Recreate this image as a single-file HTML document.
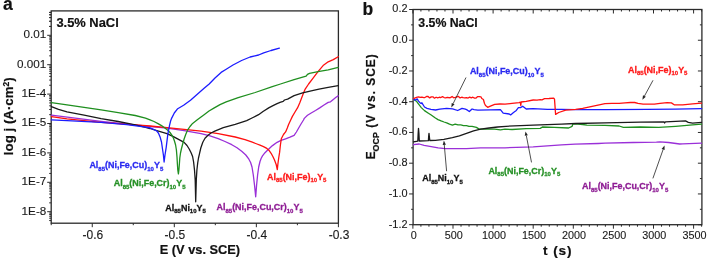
<!DOCTYPE html>
<html><head><meta charset="utf-8"><title>Polarization and OCP curves</title>
<style>
html,body{margin:0;padding:0;background:#fff;}
body{width:708px;height:258px;overflow:hidden;font-family:"Liberation Sans", sans-serif;}
svg{display:block;will-change:transform;}
</style></head>
<body>
<svg width="708" height="258" viewBox="0 0 708 258" font-family='"Liberation Sans", sans-serif'>
<rect width="708" height="258" fill="#fff"/>
<line x1="47.20" y1="211.70" x2="51.20" y2="211.70" stroke="#2a2a2a" stroke-width="1.0"/>
<line x1="49.20" y1="202.85" x2="51.20" y2="202.85" stroke="#2a2a2a" stroke-width="1.0"/>
<line x1="49.20" y1="197.67" x2="51.20" y2="197.67" stroke="#2a2a2a" stroke-width="1.0"/>
<line x1="49.20" y1="194.00" x2="51.20" y2="194.00" stroke="#2a2a2a" stroke-width="1.0"/>
<line x1="49.20" y1="191.15" x2="51.20" y2="191.15" stroke="#2a2a2a" stroke-width="1.0"/>
<line x1="49.20" y1="188.82" x2="51.20" y2="188.82" stroke="#2a2a2a" stroke-width="1.0"/>
<line x1="49.20" y1="186.85" x2="51.20" y2="186.85" stroke="#2a2a2a" stroke-width="1.0"/>
<line x1="49.20" y1="185.15" x2="51.20" y2="185.15" stroke="#2a2a2a" stroke-width="1.0"/>
<line x1="49.20" y1="183.65" x2="51.20" y2="183.65" stroke="#2a2a2a" stroke-width="1.0"/>
<line x1="47.20" y1="182.30" x2="51.20" y2="182.30" stroke="#2a2a2a" stroke-width="1.0"/>
<line x1="49.20" y1="173.45" x2="51.20" y2="173.45" stroke="#2a2a2a" stroke-width="1.0"/>
<line x1="49.20" y1="168.27" x2="51.20" y2="168.27" stroke="#2a2a2a" stroke-width="1.0"/>
<line x1="49.20" y1="164.60" x2="51.20" y2="164.60" stroke="#2a2a2a" stroke-width="1.0"/>
<line x1="49.20" y1="161.75" x2="51.20" y2="161.75" stroke="#2a2a2a" stroke-width="1.0"/>
<line x1="49.20" y1="159.42" x2="51.20" y2="159.42" stroke="#2a2a2a" stroke-width="1.0"/>
<line x1="49.20" y1="157.45" x2="51.20" y2="157.45" stroke="#2a2a2a" stroke-width="1.0"/>
<line x1="49.20" y1="155.75" x2="51.20" y2="155.75" stroke="#2a2a2a" stroke-width="1.0"/>
<line x1="49.20" y1="154.25" x2="51.20" y2="154.25" stroke="#2a2a2a" stroke-width="1.0"/>
<line x1="47.20" y1="152.90" x2="51.20" y2="152.90" stroke="#2a2a2a" stroke-width="1.0"/>
<line x1="49.20" y1="144.05" x2="51.20" y2="144.05" stroke="#2a2a2a" stroke-width="1.0"/>
<line x1="49.20" y1="138.87" x2="51.20" y2="138.87" stroke="#2a2a2a" stroke-width="1.0"/>
<line x1="49.20" y1="135.20" x2="51.20" y2="135.20" stroke="#2a2a2a" stroke-width="1.0"/>
<line x1="49.20" y1="132.35" x2="51.20" y2="132.35" stroke="#2a2a2a" stroke-width="1.0"/>
<line x1="49.20" y1="130.02" x2="51.20" y2="130.02" stroke="#2a2a2a" stroke-width="1.0"/>
<line x1="49.20" y1="128.05" x2="51.20" y2="128.05" stroke="#2a2a2a" stroke-width="1.0"/>
<line x1="49.20" y1="126.35" x2="51.20" y2="126.35" stroke="#2a2a2a" stroke-width="1.0"/>
<line x1="49.20" y1="124.85" x2="51.20" y2="124.85" stroke="#2a2a2a" stroke-width="1.0"/>
<line x1="47.20" y1="123.50" x2="51.20" y2="123.50" stroke="#2a2a2a" stroke-width="1.0"/>
<line x1="49.20" y1="114.65" x2="51.20" y2="114.65" stroke="#2a2a2a" stroke-width="1.0"/>
<line x1="49.20" y1="109.47" x2="51.20" y2="109.47" stroke="#2a2a2a" stroke-width="1.0"/>
<line x1="49.20" y1="105.80" x2="51.20" y2="105.80" stroke="#2a2a2a" stroke-width="1.0"/>
<line x1="49.20" y1="102.95" x2="51.20" y2="102.95" stroke="#2a2a2a" stroke-width="1.0"/>
<line x1="49.20" y1="100.62" x2="51.20" y2="100.62" stroke="#2a2a2a" stroke-width="1.0"/>
<line x1="49.20" y1="98.65" x2="51.20" y2="98.65" stroke="#2a2a2a" stroke-width="1.0"/>
<line x1="49.20" y1="96.95" x2="51.20" y2="96.95" stroke="#2a2a2a" stroke-width="1.0"/>
<line x1="49.20" y1="95.45" x2="51.20" y2="95.45" stroke="#2a2a2a" stroke-width="1.0"/>
<line x1="47.20" y1="94.10" x2="51.20" y2="94.10" stroke="#2a2a2a" stroke-width="1.0"/>
<line x1="49.20" y1="85.25" x2="51.20" y2="85.25" stroke="#2a2a2a" stroke-width="1.0"/>
<line x1="49.20" y1="80.07" x2="51.20" y2="80.07" stroke="#2a2a2a" stroke-width="1.0"/>
<line x1="49.20" y1="76.40" x2="51.20" y2="76.40" stroke="#2a2a2a" stroke-width="1.0"/>
<line x1="49.20" y1="73.55" x2="51.20" y2="73.55" stroke="#2a2a2a" stroke-width="1.0"/>
<line x1="49.20" y1="71.22" x2="51.20" y2="71.22" stroke="#2a2a2a" stroke-width="1.0"/>
<line x1="49.20" y1="69.25" x2="51.20" y2="69.25" stroke="#2a2a2a" stroke-width="1.0"/>
<line x1="49.20" y1="67.55" x2="51.20" y2="67.55" stroke="#2a2a2a" stroke-width="1.0"/>
<line x1="49.20" y1="66.05" x2="51.20" y2="66.05" stroke="#2a2a2a" stroke-width="1.0"/>
<line x1="47.20" y1="64.70" x2="51.20" y2="64.70" stroke="#2a2a2a" stroke-width="1.0"/>
<line x1="49.20" y1="55.85" x2="51.20" y2="55.85" stroke="#2a2a2a" stroke-width="1.0"/>
<line x1="49.20" y1="50.67" x2="51.20" y2="50.67" stroke="#2a2a2a" stroke-width="1.0"/>
<line x1="49.20" y1="47.00" x2="51.20" y2="47.00" stroke="#2a2a2a" stroke-width="1.0"/>
<line x1="49.20" y1="44.15" x2="51.20" y2="44.15" stroke="#2a2a2a" stroke-width="1.0"/>
<line x1="49.20" y1="41.82" x2="51.20" y2="41.82" stroke="#2a2a2a" stroke-width="1.0"/>
<line x1="49.20" y1="39.85" x2="51.20" y2="39.85" stroke="#2a2a2a" stroke-width="1.0"/>
<line x1="49.20" y1="38.15" x2="51.20" y2="38.15" stroke="#2a2a2a" stroke-width="1.0"/>
<line x1="49.20" y1="36.65" x2="51.20" y2="36.65" stroke="#2a2a2a" stroke-width="1.0"/>
<line x1="47.20" y1="35.30" x2="51.20" y2="35.30" stroke="#2a2a2a" stroke-width="1.0"/>
<line x1="49.20" y1="26.45" x2="51.20" y2="26.45" stroke="#2a2a2a" stroke-width="1.0"/>
<line x1="49.20" y1="21.27" x2="51.20" y2="21.27" stroke="#2a2a2a" stroke-width="1.0"/>
<line x1="49.20" y1="17.60" x2="51.20" y2="17.60" stroke="#2a2a2a" stroke-width="1.0"/>
<line x1="49.20" y1="14.75" x2="51.20" y2="14.75" stroke="#2a2a2a" stroke-width="1.0"/>
<line x1="49.20" y1="12.42" x2="51.20" y2="12.42" stroke="#2a2a2a" stroke-width="1.0"/>
<line x1="49.20" y1="220.55" x2="51.20" y2="220.55" stroke="#2a2a2a" stroke-width="1.0"/>
<line x1="49.20" y1="218.22" x2="51.20" y2="218.22" stroke="#2a2a2a" stroke-width="1.0"/>
<line x1="49.20" y1="216.25" x2="51.20" y2="216.25" stroke="#2a2a2a" stroke-width="1.0"/>
<line x1="49.20" y1="214.55" x2="51.20" y2="214.55" stroke="#2a2a2a" stroke-width="1.0"/>
<line x1="49.20" y1="213.05" x2="51.20" y2="213.05" stroke="#2a2a2a" stroke-width="1.0"/>
<line x1="49.20" y1="26.45" x2="51.20" y2="26.45" stroke="#2a2a2a" stroke-width="1.0"/>
<line x1="49.20" y1="21.27" x2="51.20" y2="21.27" stroke="#2a2a2a" stroke-width="1.0"/>
<line x1="49.20" y1="17.60" x2="51.20" y2="17.60" stroke="#2a2a2a" stroke-width="1.0"/>
<line x1="49.20" y1="14.75" x2="51.20" y2="14.75" stroke="#2a2a2a" stroke-width="1.0"/>
<line x1="49.20" y1="12.42" x2="51.20" y2="12.42" stroke="#2a2a2a" stroke-width="1.0"/>
<line x1="92.25" y1="223.20" x2="92.25" y2="227.20" stroke="#2a2a2a" stroke-width="1.0"/>
<line x1="174.30" y1="223.20" x2="174.30" y2="227.20" stroke="#2a2a2a" stroke-width="1.0"/>
<line x1="256.35" y1="223.20" x2="256.35" y2="227.20" stroke="#2a2a2a" stroke-width="1.0"/>
<line x1="338.40" y1="223.20" x2="338.40" y2="227.20" stroke="#2a2a2a" stroke-width="1.0"/>
<line x1="51.22" y1="223.20" x2="51.22" y2="225.20" stroke="#2a2a2a" stroke-width="1.0"/>
<line x1="133.27" y1="223.20" x2="133.27" y2="225.20" stroke="#2a2a2a" stroke-width="1.0"/>
<line x1="215.32" y1="223.20" x2="215.32" y2="225.20" stroke="#2a2a2a" stroke-width="1.0"/>
<line x1="297.38" y1="223.20" x2="297.38" y2="225.20" stroke="#2a2a2a" stroke-width="1.0"/>
<rect x="51.20" y="10.90" width="287.20" height="212.30" fill="none" stroke="#2a2a2a" stroke-width="1.3"/>
<text x="46.30" y="38.20" font-size="11.7" font-weight="normal" fill="#1a1a1a" stroke="#1a1a1a" stroke-width="0.12" text-anchor="end" >0.01</text>
<text x="46.30" y="67.60" font-size="11.7" font-weight="normal" fill="#1a1a1a" stroke="#1a1a1a" stroke-width="0.12" text-anchor="end" >0.001</text>
<text x="46.30" y="97.00" font-size="11.7" font-weight="normal" fill="#1a1a1a" stroke="#1a1a1a" stroke-width="0.12" text-anchor="end" >1E-4</text>
<text x="46.30" y="126.40" font-size="11.7" font-weight="normal" fill="#1a1a1a" stroke="#1a1a1a" stroke-width="0.12" text-anchor="end" >1E-5</text>
<text x="46.30" y="155.80" font-size="11.7" font-weight="normal" fill="#1a1a1a" stroke="#1a1a1a" stroke-width="0.12" text-anchor="end" >1E-6</text>
<text x="46.30" y="185.20" font-size="11.7" font-weight="normal" fill="#1a1a1a" stroke="#1a1a1a" stroke-width="0.12" text-anchor="end" >1E-7</text>
<text x="46.30" y="214.60" font-size="11.7" font-weight="normal" fill="#1a1a1a" stroke="#1a1a1a" stroke-width="0.12" text-anchor="end" >1E-8</text>
<text x="92.85" y="238.70" font-size="12" font-weight="normal" fill="#1a1a1a" stroke="#1a1a1a" stroke-width="0.12" text-anchor="middle" >-0.6</text>
<text x="174.90" y="238.70" font-size="12" font-weight="normal" fill="#1a1a1a" stroke="#1a1a1a" stroke-width="0.12" text-anchor="middle" >-0.5</text>
<text x="256.95" y="238.70" font-size="12" font-weight="normal" fill="#1a1a1a" stroke="#1a1a1a" stroke-width="0.12" text-anchor="middle" >-0.4</text>
<text x="339.00" y="238.70" font-size="12" font-weight="normal" fill="#1a1a1a" stroke="#1a1a1a" stroke-width="0.12" text-anchor="middle" >-0.3</text>
<text x="199.90" y="253.50" font-size="12.8" font-weight="bold" fill="#111" stroke="#111" stroke-width="0.2" text-anchor="middle" >E (V vs. SCE)</text>
<text transform="translate(13.2,116.2) rotate(-90)" font-size="13.3" font-weight="bold" fill="#111" stroke="#111" stroke-width="0.2" text-anchor="middle">log j (A·cm<tspan font-size="8.5" dy="-3.9">2</tspan><tspan dy="3.9">)</tspan></text>
<text x="3.00" y="9.60" font-size="17.5" font-weight="bold" fill="#111" stroke="#111" stroke-width="0.2" text-anchor="start" >a</text>
<text x="56.40" y="26.80" font-size="12.9" font-weight="bold" fill="#111" stroke="#111" stroke-width="0.2" text-anchor="start" >3.5% NaCl</text>
<polyline points="51.40,115.20 101.10,121.30 150.00,126.50 167.00,128.20 184.10,130.60 201.10,133.60 210.00,135.80 218.20,138.70 225.00,141.50 231.80,144.70 237.00,147.80 242.00,151.50 245.80,155.00 248.90,159.20 250.60,162.50 252.00,167.00 253.30,175.00 254.50,185.00 255.70,196.80 256.60,185.00 257.60,175.00 258.70,167.00 260.00,161.50 261.20,158.30 262.50,155.90 265.00,152.70 268.50,149.20 272.50,145.60 277.10,142.30 281.00,140.40 285.60,138.80 290.00,137.20 294.10,135.40 296.40,132.00 298.40,128.50 301.00,124.00 303.50,120.00 304.30,118.40 307.50,115.30 311.20,113.00 315.50,110.50 319.70,107.90 324.00,105.00 328.20,102.40 330.50,101.80 333.30,99.40 336.00,97.30 338.20,95.90" fill="none" stroke="#9a2fd8" stroke-width="1.3" stroke-linejoin="round" stroke-linecap="round"/>
<polyline points="51.40,116.60 67.00,118.90 101.10,122.40 135.20,124.90 150.00,126.00 167.00,127.70 184.10,129.40 201.10,131.10 218.20,133.60 235.20,137.00 245.00,139.60 252.30,142.20 257.00,144.00 260.00,145.20 263.50,146.60 266.80,148.40 269.20,150.60 271.10,153.30 273.00,156.80 274.50,160.10 276.20,164.50 277.30,169.60 277.90,164.00 278.70,158.00 279.60,152.40 280.40,145.00 281.30,138.80 283.50,134.50 285.60,131.90 287.30,128.00 288.60,124.50 290.70,120.00 292.40,116.40 295.00,112.00 297.50,107.90 299.70,103.00 301.80,97.60 303.50,93.00 305.20,89.10 308.60,84.00 312.90,78.40 318.00,71.60 323.10,65.60 328.20,61.80 333.30,59.60 338.20,56.70" fill="none" stroke="#ff1010" stroke-width="1.3" stroke-linejoin="round" stroke-linecap="round"/>
<polyline points="51.40,106.70 58.50,109.40 67.00,111.80 84.10,115.20 101.10,118.60 118.20,121.50 135.20,124.90 145.50,127.30 150.00,128.50 158.50,131.10 167.00,133.60 173.90,136.90 179.00,139.60 184.10,142.40 187.00,145.50 189.20,149.00 191.20,153.00 192.60,156.50 193.60,162.00 194.50,170.00 195.20,180.00 195.70,201.80 196.30,180.00 196.90,170.00 197.70,163.00 198.50,158.00 199.40,154.10 200.80,148.00 202.80,142.20 205.00,138.30 208.00,135.30 211.00,133.00 214.80,131.10 223.30,127.70 235.20,124.30 246.70,120.60 252.00,118.00 258.60,114.70 263.00,111.50 268.70,107.90 273.00,105.60 277.10,103.60 280.00,102.40 283.20,101.40 284.50,100.00 287.60,99.10 294.10,95.60 302.60,92.90 311.20,90.80 319.00,89.10 328.20,87.40 338.20,85.70" fill="none" stroke="#1a1a1a" stroke-width="1.3" stroke-linejoin="round" stroke-linecap="round"/>
<polyline points="51.40,102.60 67.00,104.80 84.10,107.40 101.10,109.90 118.20,112.60 135.20,115.50 145.50,118.10 150.00,119.80 154.00,121.50 158.00,123.60 161.50,125.60 164.50,127.80 167.50,130.00 170.00,132.50 172.20,135.60 173.60,138.50 174.60,141.50 175.60,145.00 176.40,150.00 177.00,157.00 177.40,164.00 177.80,170.00 178.40,173.80 178.90,170.00 179.30,165.00 179.80,158.00 180.50,153.00 181.50,148.50 182.70,144.00 184.10,139.00 185.80,134.30 187.50,130.20 190.00,126.50 192.60,123.40 197.30,119.80 204.10,114.70 209.00,111.00 214.30,107.90 220.00,104.60 226.20,101.90 238.20,97.60 255.20,92.50 272.30,86.60 280.50,84.00 294.10,79.60 306.10,76.20 307.50,74.30 309.50,73.30 318.00,71.60 328.20,69.90 338.20,67.30" fill="none" stroke="#1f8f1f" stroke-width="1.3" stroke-linejoin="round" stroke-linecap="round"/>
<polyline points="51.40,119.90 67.00,120.60 101.10,122.40 126.70,124.60 143.70,126.80 150.00,127.90 153.50,129.30 156.80,131.00 158.60,133.40 160.20,137.30 161.50,142.00 162.50,149.00 163.40,155.00 164.10,162.00 165.00,155.00 166.20,147.30 167.90,133.60 169.60,125.10 170.60,121.00 171.70,118.10 174.30,113.00 177.70,108.70 183.60,105.30 190.50,100.20 197.30,94.20 204.10,88.30 209.20,84.00 215.00,78.00 221.10,72.40 226.20,69.30 233.00,65.00 241.60,60.50 250.10,57.00 258.60,55.00 263.70,52.80 271.00,50.50 279.40,48.20" fill="none" stroke="#1c1cff" stroke-width="1.3" stroke-linejoin="round" stroke-linecap="round"/>
<text x="89.40" y="168.30" font-size="8.95" font-weight="bold" fill="#2a2af0" stroke="#2a2af0" stroke-width="0.3" text-anchor="start" ><tspan>Al</tspan><tspan font-size="6.0" dy="2.40">85</tspan><tspan dy="-2.40">(Ni,Fe,Cu)</tspan><tspan font-size="6.0" dy="2.40">10</tspan><tspan dy="-2.40">Y</tspan><tspan font-size="6.0" dy="2.40">5</tspan></text>
<text x="113.70" y="186.20" font-size="8.95" font-weight="bold" fill="#259025" stroke="#259025" stroke-width="0.3" text-anchor="start" ><tspan>Al</tspan><tspan font-size="6.0" dy="2.40">85</tspan><tspan dy="-2.40">(Ni,Fe,Cr)</tspan><tspan font-size="6.0" dy="2.40">10</tspan><tspan dy="-2.40">Y</tspan><tspan font-size="6.0" dy="2.40">5</tspan></text>
<text x="165.30" y="210.80" font-size="8.95" font-weight="bold" fill="#111" stroke="#111" stroke-width="0.3" text-anchor="start" ><tspan>Al</tspan><tspan font-size="6.0" dy="2.40">85</tspan><tspan dy="-2.40">Ni</tspan><tspan font-size="6.0" dy="2.40">10</tspan><tspan dy="-2.40">Y</tspan><tspan font-size="6.0" dy="2.40">5</tspan></text>
<text x="216.50" y="210.20" font-size="8.95" font-weight="bold" fill="#8e1c94" stroke="#8e1c94" stroke-width="0.3" text-anchor="start" ><tspan>Al</tspan><tspan font-size="6.0" dy="2.40">85</tspan><tspan dy="-2.40">(Ni,Fe,Cu,Cr)</tspan><tspan font-size="6.0" dy="2.40">10</tspan><tspan dy="-2.40">Y</tspan><tspan font-size="6.0" dy="2.40">5</tspan></text>
<text x="267.00" y="179.70" font-size="8.95" font-weight="bold" fill="#ff1a1a" stroke="#ff1a1a" stroke-width="0.3" text-anchor="start" ><tspan>Al</tspan><tspan font-size="6.0" dy="2.40">85</tspan><tspan dy="-2.40">(Ni,Fe)</tspan><tspan font-size="6.0" dy="2.40">10</tspan><tspan dy="-2.40">Y</tspan><tspan font-size="6.0" dy="2.40">5</tspan></text>
<line x1="409.10" y1="9.50" x2="413.10" y2="9.50" stroke="#2a2a2a" stroke-width="1.0"/>
<line x1="697.90" y1="9.50" x2="701.90" y2="9.50" stroke="#2a2a2a" stroke-width="1.0"/>
<line x1="411.10" y1="24.87" x2="413.10" y2="24.87" stroke="#2a2a2a" stroke-width="1.0"/>
<line x1="699.90" y1="24.87" x2="701.90" y2="24.87" stroke="#2a2a2a" stroke-width="1.0"/>
<line x1="409.10" y1="40.24" x2="413.10" y2="40.24" stroke="#2a2a2a" stroke-width="1.0"/>
<line x1="697.90" y1="40.24" x2="701.90" y2="40.24" stroke="#2a2a2a" stroke-width="1.0"/>
<line x1="411.10" y1="55.61" x2="413.10" y2="55.61" stroke="#2a2a2a" stroke-width="1.0"/>
<line x1="699.90" y1="55.61" x2="701.90" y2="55.61" stroke="#2a2a2a" stroke-width="1.0"/>
<line x1="409.10" y1="70.98" x2="413.10" y2="70.98" stroke="#2a2a2a" stroke-width="1.0"/>
<line x1="697.90" y1="70.98" x2="701.90" y2="70.98" stroke="#2a2a2a" stroke-width="1.0"/>
<line x1="411.10" y1="86.35" x2="413.10" y2="86.35" stroke="#2a2a2a" stroke-width="1.0"/>
<line x1="699.90" y1="86.35" x2="701.90" y2="86.35" stroke="#2a2a2a" stroke-width="1.0"/>
<line x1="409.10" y1="101.72" x2="413.10" y2="101.72" stroke="#2a2a2a" stroke-width="1.0"/>
<line x1="697.90" y1="101.72" x2="701.90" y2="101.72" stroke="#2a2a2a" stroke-width="1.0"/>
<line x1="411.10" y1="117.09" x2="413.10" y2="117.09" stroke="#2a2a2a" stroke-width="1.0"/>
<line x1="699.90" y1="117.09" x2="701.90" y2="117.09" stroke="#2a2a2a" stroke-width="1.0"/>
<line x1="409.10" y1="132.46" x2="413.10" y2="132.46" stroke="#2a2a2a" stroke-width="1.0"/>
<line x1="697.90" y1="132.46" x2="701.90" y2="132.46" stroke="#2a2a2a" stroke-width="1.0"/>
<line x1="411.10" y1="147.83" x2="413.10" y2="147.83" stroke="#2a2a2a" stroke-width="1.0"/>
<line x1="699.90" y1="147.83" x2="701.90" y2="147.83" stroke="#2a2a2a" stroke-width="1.0"/>
<line x1="409.10" y1="163.20" x2="413.10" y2="163.20" stroke="#2a2a2a" stroke-width="1.0"/>
<line x1="697.90" y1="163.20" x2="701.90" y2="163.20" stroke="#2a2a2a" stroke-width="1.0"/>
<line x1="411.10" y1="178.57" x2="413.10" y2="178.57" stroke="#2a2a2a" stroke-width="1.0"/>
<line x1="699.90" y1="178.57" x2="701.90" y2="178.57" stroke="#2a2a2a" stroke-width="1.0"/>
<line x1="409.10" y1="193.94" x2="413.10" y2="193.94" stroke="#2a2a2a" stroke-width="1.0"/>
<line x1="697.90" y1="193.94" x2="701.90" y2="193.94" stroke="#2a2a2a" stroke-width="1.0"/>
<line x1="411.10" y1="209.31" x2="413.10" y2="209.31" stroke="#2a2a2a" stroke-width="1.0"/>
<line x1="699.90" y1="209.31" x2="701.90" y2="209.31" stroke="#2a2a2a" stroke-width="1.0"/>
<line x1="409.10" y1="224.68" x2="413.10" y2="224.68" stroke="#2a2a2a" stroke-width="1.0"/>
<line x1="697.90" y1="224.68" x2="701.90" y2="224.68" stroke="#2a2a2a" stroke-width="1.0"/>
<line x1="412.90" y1="224.70" x2="412.90" y2="228.70" stroke="#2a2a2a" stroke-width="1.0"/>
<line x1="412.90" y1="9.50" x2="412.90" y2="13.50" stroke="#2a2a2a" stroke-width="1.0"/>
<line x1="420.92" y1="224.70" x2="420.92" y2="226.70" stroke="#2a2a2a" stroke-width="1.0"/>
<line x1="420.92" y1="9.50" x2="420.92" y2="11.50" stroke="#2a2a2a" stroke-width="1.0"/>
<line x1="428.94" y1="224.70" x2="428.94" y2="226.70" stroke="#2a2a2a" stroke-width="1.0"/>
<line x1="428.94" y1="9.50" x2="428.94" y2="11.50" stroke="#2a2a2a" stroke-width="1.0"/>
<line x1="436.96" y1="224.70" x2="436.96" y2="226.70" stroke="#2a2a2a" stroke-width="1.0"/>
<line x1="436.96" y1="9.50" x2="436.96" y2="11.50" stroke="#2a2a2a" stroke-width="1.0"/>
<line x1="444.98" y1="224.70" x2="444.98" y2="226.70" stroke="#2a2a2a" stroke-width="1.0"/>
<line x1="444.98" y1="9.50" x2="444.98" y2="11.50" stroke="#2a2a2a" stroke-width="1.0"/>
<line x1="453.00" y1="224.70" x2="453.00" y2="228.70" stroke="#2a2a2a" stroke-width="1.0"/>
<line x1="453.00" y1="9.50" x2="453.00" y2="13.50" stroke="#2a2a2a" stroke-width="1.0"/>
<line x1="461.02" y1="224.70" x2="461.02" y2="226.70" stroke="#2a2a2a" stroke-width="1.0"/>
<line x1="461.02" y1="9.50" x2="461.02" y2="11.50" stroke="#2a2a2a" stroke-width="1.0"/>
<line x1="469.04" y1="224.70" x2="469.04" y2="226.70" stroke="#2a2a2a" stroke-width="1.0"/>
<line x1="469.04" y1="9.50" x2="469.04" y2="11.50" stroke="#2a2a2a" stroke-width="1.0"/>
<line x1="477.06" y1="224.70" x2="477.06" y2="226.70" stroke="#2a2a2a" stroke-width="1.0"/>
<line x1="477.06" y1="9.50" x2="477.06" y2="11.50" stroke="#2a2a2a" stroke-width="1.0"/>
<line x1="485.08" y1="224.70" x2="485.08" y2="226.70" stroke="#2a2a2a" stroke-width="1.0"/>
<line x1="485.08" y1="9.50" x2="485.08" y2="11.50" stroke="#2a2a2a" stroke-width="1.0"/>
<line x1="493.10" y1="224.70" x2="493.10" y2="228.70" stroke="#2a2a2a" stroke-width="1.0"/>
<line x1="493.10" y1="9.50" x2="493.10" y2="13.50" stroke="#2a2a2a" stroke-width="1.0"/>
<line x1="501.12" y1="224.70" x2="501.12" y2="226.70" stroke="#2a2a2a" stroke-width="1.0"/>
<line x1="501.12" y1="9.50" x2="501.12" y2="11.50" stroke="#2a2a2a" stroke-width="1.0"/>
<line x1="509.14" y1="224.70" x2="509.14" y2="226.70" stroke="#2a2a2a" stroke-width="1.0"/>
<line x1="509.14" y1="9.50" x2="509.14" y2="11.50" stroke="#2a2a2a" stroke-width="1.0"/>
<line x1="517.16" y1="224.70" x2="517.16" y2="226.70" stroke="#2a2a2a" stroke-width="1.0"/>
<line x1="517.16" y1="9.50" x2="517.16" y2="11.50" stroke="#2a2a2a" stroke-width="1.0"/>
<line x1="525.18" y1="224.70" x2="525.18" y2="226.70" stroke="#2a2a2a" stroke-width="1.0"/>
<line x1="525.18" y1="9.50" x2="525.18" y2="11.50" stroke="#2a2a2a" stroke-width="1.0"/>
<line x1="533.20" y1="224.70" x2="533.20" y2="228.70" stroke="#2a2a2a" stroke-width="1.0"/>
<line x1="533.20" y1="9.50" x2="533.20" y2="13.50" stroke="#2a2a2a" stroke-width="1.0"/>
<line x1="541.22" y1="224.70" x2="541.22" y2="226.70" stroke="#2a2a2a" stroke-width="1.0"/>
<line x1="541.22" y1="9.50" x2="541.22" y2="11.50" stroke="#2a2a2a" stroke-width="1.0"/>
<line x1="549.24" y1="224.70" x2="549.24" y2="226.70" stroke="#2a2a2a" stroke-width="1.0"/>
<line x1="549.24" y1="9.50" x2="549.24" y2="11.50" stroke="#2a2a2a" stroke-width="1.0"/>
<line x1="557.26" y1="224.70" x2="557.26" y2="226.70" stroke="#2a2a2a" stroke-width="1.0"/>
<line x1="557.26" y1="9.50" x2="557.26" y2="11.50" stroke="#2a2a2a" stroke-width="1.0"/>
<line x1="565.28" y1="224.70" x2="565.28" y2="226.70" stroke="#2a2a2a" stroke-width="1.0"/>
<line x1="565.28" y1="9.50" x2="565.28" y2="11.50" stroke="#2a2a2a" stroke-width="1.0"/>
<line x1="573.30" y1="224.70" x2="573.30" y2="228.70" stroke="#2a2a2a" stroke-width="1.0"/>
<line x1="573.30" y1="9.50" x2="573.30" y2="13.50" stroke="#2a2a2a" stroke-width="1.0"/>
<line x1="581.32" y1="224.70" x2="581.32" y2="226.70" stroke="#2a2a2a" stroke-width="1.0"/>
<line x1="581.32" y1="9.50" x2="581.32" y2="11.50" stroke="#2a2a2a" stroke-width="1.0"/>
<line x1="589.34" y1="224.70" x2="589.34" y2="226.70" stroke="#2a2a2a" stroke-width="1.0"/>
<line x1="589.34" y1="9.50" x2="589.34" y2="11.50" stroke="#2a2a2a" stroke-width="1.0"/>
<line x1="597.36" y1="224.70" x2="597.36" y2="226.70" stroke="#2a2a2a" stroke-width="1.0"/>
<line x1="597.36" y1="9.50" x2="597.36" y2="11.50" stroke="#2a2a2a" stroke-width="1.0"/>
<line x1="605.38" y1="224.70" x2="605.38" y2="226.70" stroke="#2a2a2a" stroke-width="1.0"/>
<line x1="605.38" y1="9.50" x2="605.38" y2="11.50" stroke="#2a2a2a" stroke-width="1.0"/>
<line x1="613.40" y1="224.70" x2="613.40" y2="228.70" stroke="#2a2a2a" stroke-width="1.0"/>
<line x1="613.40" y1="9.50" x2="613.40" y2="13.50" stroke="#2a2a2a" stroke-width="1.0"/>
<line x1="621.42" y1="224.70" x2="621.42" y2="226.70" stroke="#2a2a2a" stroke-width="1.0"/>
<line x1="621.42" y1="9.50" x2="621.42" y2="11.50" stroke="#2a2a2a" stroke-width="1.0"/>
<line x1="629.44" y1="224.70" x2="629.44" y2="226.70" stroke="#2a2a2a" stroke-width="1.0"/>
<line x1="629.44" y1="9.50" x2="629.44" y2="11.50" stroke="#2a2a2a" stroke-width="1.0"/>
<line x1="637.46" y1="224.70" x2="637.46" y2="226.70" stroke="#2a2a2a" stroke-width="1.0"/>
<line x1="637.46" y1="9.50" x2="637.46" y2="11.50" stroke="#2a2a2a" stroke-width="1.0"/>
<line x1="645.48" y1="224.70" x2="645.48" y2="226.70" stroke="#2a2a2a" stroke-width="1.0"/>
<line x1="645.48" y1="9.50" x2="645.48" y2="11.50" stroke="#2a2a2a" stroke-width="1.0"/>
<line x1="653.50" y1="224.70" x2="653.50" y2="228.70" stroke="#2a2a2a" stroke-width="1.0"/>
<line x1="653.50" y1="9.50" x2="653.50" y2="13.50" stroke="#2a2a2a" stroke-width="1.0"/>
<line x1="661.52" y1="224.70" x2="661.52" y2="226.70" stroke="#2a2a2a" stroke-width="1.0"/>
<line x1="661.52" y1="9.50" x2="661.52" y2="11.50" stroke="#2a2a2a" stroke-width="1.0"/>
<line x1="669.54" y1="224.70" x2="669.54" y2="226.70" stroke="#2a2a2a" stroke-width="1.0"/>
<line x1="669.54" y1="9.50" x2="669.54" y2="11.50" stroke="#2a2a2a" stroke-width="1.0"/>
<line x1="677.56" y1="224.70" x2="677.56" y2="226.70" stroke="#2a2a2a" stroke-width="1.0"/>
<line x1="677.56" y1="9.50" x2="677.56" y2="11.50" stroke="#2a2a2a" stroke-width="1.0"/>
<line x1="685.58" y1="224.70" x2="685.58" y2="226.70" stroke="#2a2a2a" stroke-width="1.0"/>
<line x1="685.58" y1="9.50" x2="685.58" y2="11.50" stroke="#2a2a2a" stroke-width="1.0"/>
<line x1="693.60" y1="224.70" x2="693.60" y2="228.70" stroke="#2a2a2a" stroke-width="1.0"/>
<line x1="693.60" y1="9.50" x2="693.60" y2="13.50" stroke="#2a2a2a" stroke-width="1.0"/>
<line x1="701.62" y1="224.70" x2="701.62" y2="226.70" stroke="#2a2a2a" stroke-width="1.0"/>
<line x1="701.62" y1="9.50" x2="701.62" y2="11.50" stroke="#2a2a2a" stroke-width="1.0"/>
<rect x="413.10" y="9.50" width="288.80" height="215.20" fill="none" stroke="#2a2a2a" stroke-width="1.3"/>
<text x="407.50" y="12.40" font-size="10.9" font-weight="normal" fill="#1a1a1a" stroke="#1a1a1a" stroke-width="0.12" text-anchor="end" >0.2</text>
<text x="407.50" y="43.14" font-size="10.9" font-weight="normal" fill="#1a1a1a" stroke="#1a1a1a" stroke-width="0.12" text-anchor="end" >0.0</text>
<text x="407.50" y="73.88" font-size="10.9" font-weight="normal" fill="#1a1a1a" stroke="#1a1a1a" stroke-width="0.12" text-anchor="end" >-0.2</text>
<text x="407.50" y="104.62" font-size="10.9" font-weight="normal" fill="#1a1a1a" stroke="#1a1a1a" stroke-width="0.12" text-anchor="end" >-0.4</text>
<text x="407.50" y="135.36" font-size="10.9" font-weight="normal" fill="#1a1a1a" stroke="#1a1a1a" stroke-width="0.12" text-anchor="end" >-0.6</text>
<text x="407.50" y="166.10" font-size="10.9" font-weight="normal" fill="#1a1a1a" stroke="#1a1a1a" stroke-width="0.12" text-anchor="end" >-0.8</text>
<text x="407.50" y="196.84" font-size="10.9" font-weight="normal" fill="#1a1a1a" stroke="#1a1a1a" stroke-width="0.12" text-anchor="end" >-1.0</text>
<text x="407.50" y="227.58" font-size="10.9" font-weight="normal" fill="#1a1a1a" stroke="#1a1a1a" stroke-width="0.12" text-anchor="end" >-1.2</text>
<text x="413.70" y="239.30" font-size="10.8" font-weight="normal" fill="#1a1a1a" stroke="#1a1a1a" stroke-width="0.12" text-anchor="middle" >0</text>
<text x="453.80" y="239.30" font-size="10.8" font-weight="normal" fill="#1a1a1a" stroke="#1a1a1a" stroke-width="0.12" text-anchor="middle" >500</text>
<text x="493.90" y="239.30" font-size="10.8" font-weight="normal" fill="#1a1a1a" stroke="#1a1a1a" stroke-width="0.12" text-anchor="middle" >1000</text>
<text x="534.00" y="239.30" font-size="10.8" font-weight="normal" fill="#1a1a1a" stroke="#1a1a1a" stroke-width="0.12" text-anchor="middle" >1500</text>
<text x="574.10" y="239.30" font-size="10.8" font-weight="normal" fill="#1a1a1a" stroke="#1a1a1a" stroke-width="0.12" text-anchor="middle" >2000</text>
<text x="614.20" y="239.30" font-size="10.8" font-weight="normal" fill="#1a1a1a" stroke="#1a1a1a" stroke-width="0.12" text-anchor="middle" >2500</text>
<text x="654.30" y="239.30" font-size="10.8" font-weight="normal" fill="#1a1a1a" stroke="#1a1a1a" stroke-width="0.12" text-anchor="middle" >3000</text>
<text x="694.40" y="239.30" font-size="10.8" font-weight="normal" fill="#1a1a1a" stroke="#1a1a1a" stroke-width="0.12" text-anchor="middle" >3500</text>
<text x="557.8" y="254.6" font-size="13.6" font-weight="bold" fill="#111" stroke="#111" stroke-width="0.2" text-anchor="middle" letter-spacing="0.9">t (s)</text>
<text transform="translate(374.9,106.3) rotate(-90)" font-size="11.9" font-weight="bold" fill="#111" stroke="#111" stroke-width="0.2" text-anchor="middle" letter-spacing="1.0"><tspan letter-spacing="0">E</tspan><tspan font-size="8.8" dy="3.8" letter-spacing="0.1">OCP</tspan><tspan dy="-3.8"> (V vs. SCE)</tspan></text>
<text x="362.60" y="15.20" font-size="17.5" font-weight="bold" fill="#111" stroke="#111" stroke-width="0.2" text-anchor="start" >b</text>
<text x="418.30" y="27.20" font-size="12.3" font-weight="bold" fill="#111" stroke="#111" stroke-width="0.2" text-anchor="start" >3.5% NaCl</text>
<polyline points="413.50,144.70 419.20,144.00 424.10,145.40 429.80,146.40 438.20,147.80 445.30,148.60 466.50,148.60 480.60,147.80 494.70,147.80 505.00,147.80 533.20,146.80 561.50,144.90 575.00,144.20 598.30,143.50 605.00,143.20 633.20,142.50 656.40,142.20 660.00,141.90 668.60,142.50 679.70,144.00 682.70,143.90 701.50,143.20" fill="none" stroke="#9a2fd8" stroke-width="1.3" stroke-linejoin="round" stroke-linecap="round"/>
<polyline points="413.50,99.10 416.40,101.20 418.80,104.40 421.30,107.60 424.50,110.60 428.40,113.20 431.20,115.00 435.40,118.00 438.00,119.60 441.10,120.90 444.00,122.00 446.70,122.80 449.50,124.20 452.40,125.20 455.20,124.20 458.00,124.90 460.80,124.90 463.50,125.60 466.50,125.60 469.00,126.40 472.10,126.30 476.40,127.40 479.20,129.10 486.30,129.10 494.70,129.10 500.40,129.80 505.00,129.20 512.10,129.50 526.20,128.70 540.30,128.40 542.40,127.00 554.40,127.40 568.60,128.00 572.10,126.30 572.80,124.20 575.60,123.90 582.70,124.50 586.90,125.20 605.00,125.40 619.10,126.00 623.40,127.40 640.30,127.00 658.70,127.40 675.60,126.30 689.70,125.20 701.50,124.20" fill="none" stroke="#1f8f1f" stroke-width="1.3" stroke-linejoin="round" stroke-linecap="round"/>
<polyline points="413.50,141.80 417.80,141.10 418.20,133.00 418.50,128.40 418.90,133.00 419.30,141.00 424.10,140.80 428.40,140.70 428.70,136.00 429.00,133.40 429.40,137.00 429.80,140.50 435.40,140.40 443.90,139.30 452.40,137.60 459.40,135.90 466.50,133.40 473.60,130.80 480.60,129.10 489.10,128.00 497.60,127.00 506.00,126.30 533.20,125.20 561.50,124.20 575.60,123.50 605.00,122.80 640.30,122.10 664.00,121.80 664.60,123.00 665.40,121.80 675.60,121.40 685.50,120.90 688.30,122.30 692.60,123.20 701.50,122.30" fill="none" stroke="#1a1a1a" stroke-width="1.3" stroke-linejoin="round" stroke-linecap="round"/>
<polyline points="413.50,98.60 415.10,100.20 417.20,98.90 418.50,101.10 420.30,103.00 421.10,103.60 421.90,102.80 424.50,107.00 427.00,108.30 431.00,109.30 435.60,110.00 439.80,109.20 446.70,108.30 452.60,108.80 457.70,110.50 462.00,108.30 465.40,109.20 467.50,110.20 469.30,111.60 472.10,109.00 474.00,109.70 477.80,110.10 490.00,109.90 500.40,109.70 503.20,113.20 509.20,114.00 510.60,114.90 513.50,112.50 516.30,110.40 518.40,107.60 520.50,107.60 522.70,106.20 526.20,109.00 533.20,108.70 547.40,109.30 561.50,109.30 575.60,109.60 605.00,109.70 647.40,109.40 675.60,109.10 701.50,108.70" fill="none" stroke="#1c1cff" stroke-width="1.3" stroke-linejoin="round" stroke-linecap="round"/>
<polyline points="413.50,98.60 416.50,97.40 418.50,96.83 420.10,97.38 421.70,97.07 423.30,97.49 424.90,97.53 426.50,96.52 428.10,96.42 429.70,97.91 431.30,96.87 432.90,96.82 434.50,98.19 436.10,97.25 437.70,97.91 439.30,97.26 440.90,97.55 442.50,96.67 444.10,97.54 445.70,97.96 447.30,97.34 448.90,97.73 450.50,97.61 452.10,96.52 453.70,97.76 455.30,97.46 456.90,96.94 458.50,96.46 460.10,97.96 461.70,97.25 463.30,97.69 464.90,97.98 466.50,97.69 468.10,98.06 469.70,97.11 471.30,97.84 472.90,97.20 474.50,98.08 476.10,97.98 477.70,96.58 479.30,96.64 480.90,96.79 481.80,98.50 483.40,99.50 484.50,103.50 485.50,105.50 487.70,107.30 489.80,106.40 494.70,104.40 500.00,104.00 505.00,104.20 512.00,103.30 519.10,102.70 520.40,102.20 520.80,105.50 521.20,102.00 526.20,101.30 533.20,100.00 537.00,100.20 540.30,99.60 542.00,99.90 544.50,98.70 549.00,98.50 553.70,98.10 554.50,99.10 555.60,114.40 558.70,112.50 565.70,110.10 575.60,109.30 582.70,108.30 596.80,105.30 605.00,103.70 612.00,103.30 619.10,103.40 625.00,102.90 630.40,102.50 634.70,102.50 638.00,103.40 643.10,104.10 654.40,104.10 660.00,103.40 667.10,102.60 671.40,102.90 674.20,104.80 682.70,104.80 692.60,103.80 701.50,103.10" fill="none" stroke="#ff1010" stroke-width="1.3" stroke-linejoin="round" stroke-linecap="round"/>
<line x1="466.00" y1="77.50" x2="453.15" y2="103.63" stroke="#222" stroke-width="0.8"/>
<polygon points="451.30,107.40 451.72,102.92 454.59,104.34" fill="#222"/>
<line x1="653.00" y1="80.30" x2="644.41" y2="96.11" stroke="#222" stroke-width="0.8"/>
<polygon points="642.40,99.80 643.00,95.35 645.81,96.87" fill="#222"/>
<line x1="446.60" y1="171.20" x2="444.27" y2="144.78" stroke="#222" stroke-width="0.8"/>
<polygon points="443.90,140.60 445.86,144.64 442.68,144.92" fill="#222"/>
<line x1="531.50" y1="162.40" x2="526.30" y2="135.52" stroke="#222" stroke-width="0.8"/>
<polygon points="525.50,131.40 527.87,135.22 524.73,135.83" fill="#222"/>
<line x1="652.90" y1="178.40" x2="663.10" y2="149.56" stroke="#222" stroke-width="0.8"/>
<polygon points="664.50,145.60 664.61,150.09 661.59,149.03" fill="#222"/>
<text x="469.90" y="74.20" font-size="8.95" font-weight="bold" fill="#2a2af0" stroke="#2a2af0" stroke-width="0.3" text-anchor="start" ><tspan>Al</tspan><tspan font-size="6.0" dy="2.40">85</tspan><tspan dy="-2.40">(Ni,Fe,Cu)</tspan><tspan font-size="6.0" dy="2.40">10</tspan><tspan dy="-2.40">Y</tspan><tspan font-size="6.0" dy="2.40">5</tspan></text>
<text x="628.00" y="72.80" font-size="8.95" font-weight="bold" fill="#ff1a1a" stroke="#ff1a1a" stroke-width="0.3" text-anchor="start" ><tspan>Al</tspan><tspan font-size="6.0" dy="2.40">85</tspan><tspan dy="-2.40">(Ni,Fe)</tspan><tspan font-size="6.0" dy="2.40">10</tspan><tspan dy="-2.40">Y</tspan><tspan font-size="6.0" dy="2.40">5</tspan></text>
<text x="422.20" y="181.30" font-size="8.95" font-weight="bold" fill="#111" stroke="#111" stroke-width="0.3" text-anchor="start" ><tspan>Al</tspan><tspan font-size="6.0" dy="2.40">85</tspan><tspan dy="-2.40">Ni</tspan><tspan font-size="6.0" dy="2.40">10</tspan><tspan dy="-2.40">Y</tspan><tspan font-size="6.0" dy="2.40">5</tspan></text>
<text x="488.40" y="173.80" font-size="8.95" font-weight="bold" fill="#259025" stroke="#259025" stroke-width="0.3" text-anchor="start" ><tspan>Al</tspan><tspan font-size="6.0" dy="2.40">85</tspan><tspan dy="-2.40">(Ni,Fe,Cr)</tspan><tspan font-size="6.0" dy="2.40">10</tspan><tspan dy="-2.40">Y</tspan><tspan font-size="6.0" dy="2.40">5</tspan></text>
<text x="582.00" y="189.30" font-size="8.95" font-weight="bold" fill="#8e1c94" stroke="#8e1c94" stroke-width="0.3" text-anchor="start" ><tspan>Al</tspan><tspan font-size="6.0" dy="2.40">85</tspan><tspan dy="-2.40">(Ni,Fe,Cu,Cr)</tspan><tspan font-size="6.0" dy="2.40">10</tspan><tspan dy="-2.40">Y</tspan><tspan font-size="6.0" dy="2.40">5</tspan></text>
</svg>
</body></html>
